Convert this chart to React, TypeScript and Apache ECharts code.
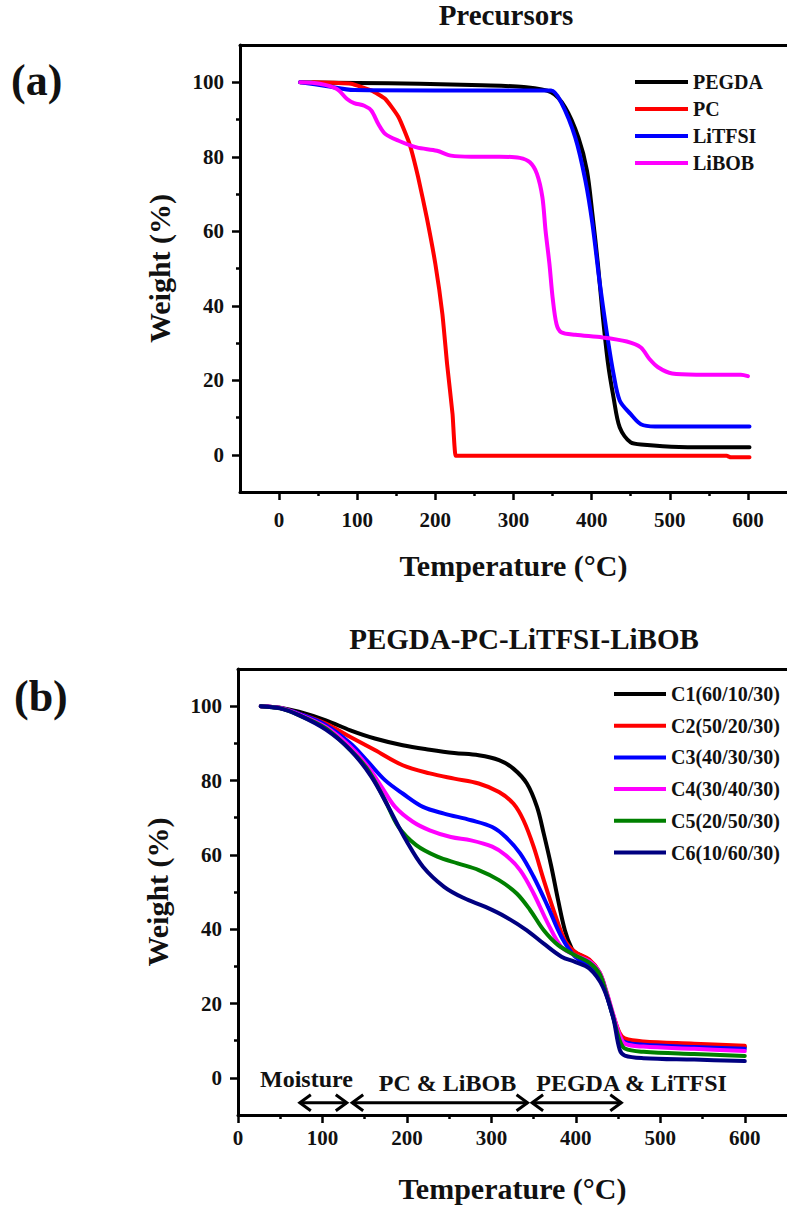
import React, { useEffect, useRef } from "react";
import * as echarts from "echarts";

// ---------- Data: panel (a) Precursors ----------
const precursorNames = ["PEGDA", "PC", "LiTFSI", "LiBOB"];
const precursorColors = ["#000000", "#ff0000", "#0000ff", "#ff00ff"];
const pegdaData = [[27,100],[100,99.8],[180,99.6],[260,99.2],[313,98.7],[348,97.3],[366,93.3],[383,85.2],[394,76.3],[401,64.6],[408,51.2],[414,37.8],[421,24.4],[428,15.4],[436,7.3],[450,3.3],[467,2.7],[512,2.1],[574,2.0],[602,2.0]];
const pcData = [[43,100],[92,99.6],[118,97.8],[136,95.5],[153,90.6],[167,83.4],[178,74.5],[189,63.7],[200,51.2],[209,37.8],[215,24.4],[222,10.9],[226,-0.3],[232,-0.3],[379,-0.3],[573,-0.3],[578,-0.7],[602,-0.7]];
const litfsiData = [[27,100],[60,99],[96,97.9],[200,97.8],[348,97.8],[361,94.6],[379,85.2],[392,73.6],[401,62],[410,46.7],[419,33.3],[428,21.7],[436,14.5],[450,10.9],[463,8.2],[481,7.6],[602,7.6]];
const libobData = [[27,100],[52,99.6],[74,98.2],[87,95.5],[96,94.4],[109,93.7],[118,92.4],[127,88.8],[136,86.1],[153,84.3],[176,82.5],[202,81.6],[220,80.3],[246,80],[282,80],[308,79.7],[321,78.5],[330,75.4],[337,69.1],[341,60.2],[346,51.2],[350,42.3],[355,35.1],[361,32.9],[379,32.2],[414,31.5],[445,30.4],[463,28.8],[474,25.7],[485,23.5],[503,21.8],[534,21.5],[591,21.5],[600,21.1]];

// ---------- Data: panel (b) PEGDA-PC-LiTFSI-LiBOB ----------
const compNames = ["C1(60/10/30)", "C2(50/20/30)", "C3(40/30/30)", "C4(30/40/30)", "C5(20/50/30)", "C6(10/60/30)"];
const compColors = ["#000000", "#ff0000", "#0000ff", "#ff00ff", "#008000", "#000080"];
const c1Data = [[27,100],[50,99.6],[72,98.5],[104,96.2],[133,93.5],[162,91.3],[195,89.5],[227,88.3],[256,87.4],[285,86.8],[309,85.5],[326,83.2],[342,79.2],[354,72.9],[362,65.7],[371,56.8],[379,47.8],[387,39.7],[395,34.8],[400,33.6],[416,31.6],[428,28.2],[436,23],[444,16.8],[452,11.5],[458,10],[480,9.3],[540,8.8],[600,8.3]];
const c2Data = [[27,100],[50,99.5],[72,98],[104,95.3],[133,91.7],[162,88.2],[195,84.1],[227,81.9],[256,80.5],[285,79.2],[309,76.9],[326,73.8],[338,69.3],[350,62.2],[362,53.2],[375,44.2],[387,37],[399,33.9],[416,31.8],[428,28.4],[436,23.2],[444,17],[452,12],[458,10.6],[480,9.8],[540,9.2],[600,8.6]];
const c3Data = [[27,100],[50,99.5],[72,98],[104,94.9],[133,90],[154,85],[174,80.1],[195,76.5],[219,72.9],[244,71.1],[276,69.3],[301,67.5],[317,64.8],[334,60.4],[350,54.1],[367,46],[383,37.9],[399,32.6],[416,30.3],[428,27.6],[436,22.5],[444,16.5],[452,11],[458,9.6],[480,8.9],[540,8.3],[600,7.8]];
const c4Data = [[27,100],[50,99.5],[72,97.8],[104,94.4],[133,89.1],[154,83.7],[170,78.3],[186,72.9],[207,68.9],[227,66.6],[252,64.8],[276,63.9],[301,62.2],[317,59.9],[334,55.9],[350,49.6],[367,41.5],[383,35.2],[399,33],[416,31.4],[428,28.4],[436,23.4],[444,17.3],[452,11.5],[458,9.2],[480,8.4],[540,7.8],[600,7.2]];
const c5Data = [[27,100],[50,99.4],[72,97.6],[104,94],[133,88.2],[154,82.8],[174,74.7],[190,67.5],[211,62.6],[236,59.5],[260,57.7],[285,55.9],[309,53.2],[330,49.6],[346,45.1],[362,39.7],[379,35.7],[399,33],[416,31],[428,28],[436,22.8],[444,16.5],[452,10],[458,7.9],[480,7],[540,6.4],[600,5.9]];
const c6Data = [[27,100],[50,99.4],[72,97.6],[104,93.7],[133,88.2],[158,81],[178,72.9],[199,63.9],[219,56.8],[244,51.4],[268,48.3],[293,46],[317,43.3],[342,39.7],[362,36.1],[383,32.6],[399,31.2],[416,29.4],[432,24.5],[444,16.4],[452,7.5],[458,6],[480,5.3],[540,4.9],[600,4.5]];

// annotations in panel (b): [xStart, xEnd, y]
const arrowSpans = [[72, 130, -6.7], [134, 344, -6.7], [347, 455, -6.7]];
const annotationTexts = ["Moisture", "PC & LiBOB", "PEGDA & LiTFSI"];
const annotationPos = [[81, -0.4], [248, -1.4], [466, -1.4]];

// ticks
const xMajorA = [0, 100, 200, 300, 400, 500, 600];
const xMinorA = [50, 150, 250, 350, 450, 550];
const xMajorB = [0, 100, 200, 300, 400, 500, 600];
const xMinorB = [50, 150, 250, 350, 450, 550];
const yMajor = [0, 20, 40, 60, 80, 100];
const yMinor = [10, 30, 50, 70, 90];

const FONT = "'Liberation Serif', 'Times New Roman', serif";
const INK = "#111111";

function mainX(gridIndex: number, min: number, major: number[], labelMargin: number) {
  return {
    type: "value", gridIndex, position: "bottom", min, max: 650,
    axisLine: { show: true, onZero: false, lineStyle: { color: "#000", width: 3 } },
    axisTick: { show: true, inside: false, length: 8, customValues: major, lineStyle: { color: "#000", width: 2.5 } },
    axisLabel: { show: true, customValues: major, margin: labelMargin, color: INK, fontFamily: FONT, fontWeight: "bold", fontSize: 21 },
    splitLine: { show: false },
    name: "Temperature (\u00B0C)", nameLocation: "middle", nameGap: 58,
    nameTextStyle: { color: INK, fontFamily: FONT, fontWeight: "bold", fontSize: 30 },
  };
}
function minorX(gridIndex: number, min: number, minor: number[]) {
  return {
    type: "value", gridIndex, position: "bottom", min, max: 650,
    axisLine: { show: false, onZero: false },
    axisTick: { show: true, inside: false, length: 4, customValues: minor, lineStyle: { color: "#000", width: 2.5 } },
    axisLabel: { show: false }, splitLine: { show: false },
  };
}
function topX(gridIndex: number, min: number) {
  return {
    type: "value", gridIndex, position: "top", min, max: 650,
    axisLine: { show: true, onZero: false, lineStyle: { color: "#000", width: 3 } },
    axisTick: { show: false }, axisLabel: { show: false }, splitLine: { show: false },
  };
}
function mainY(gridIndex: number) {
  return {
    type: "value", gridIndex, position: "left", min: -10, max: 110,
    axisLine: { show: true, onZero: false, lineStyle: { color: "#000", width: 3 } },
    axisTick: { show: true, inside: false, length: 8, customValues: yMajor, lineStyle: { color: "#000", width: 2.5 } },
    axisLabel: { show: true, customValues: yMajor, margin: 16, color: INK, fontFamily: FONT, fontWeight: "bold", fontSize: 21 },
    splitLine: { show: false },
    name: "Weight (%)", nameLocation: "middle", nameGap: 66, nameRotate: 90,
    nameTextStyle: { color: INK, fontFamily: FONT, fontWeight: "bold", fontSize: 30 },
  };
}
function minorY(gridIndex: number) {
  return {
    type: "value", gridIndex, position: "left", min: -10, max: 110,
    axisLine: { show: false, onZero: false },
    axisTick: { show: true, inside: false, length: 4, customValues: yMinor, lineStyle: { color: "#000", width: 2.5 } },
    axisLabel: { show: false }, splitLine: { show: false },
  };
}

function lineSeries(name: string, data: number[][], color: string, xi: number, yi: number, smooth: number) {
  return {
    type: "line", name, data, xAxisIndex: xi, yAxisIndex: yi,
    showSymbol: false, symbol: "none", smooth,
    lineStyle: { color, width: 4, cap: "round", join: "round" }, itemStyle: { color }, silent: true,
  };
}

export default function App() {
  const ref = useRef<HTMLDivElement>(null);
  useEffect(() => {
    if (!ref.current) return;
    const chart = echarts.init(ref.current, undefined, { renderer: "svg" });
    const legendText = { color: INK, fontFamily: FONT, fontWeight: "bold", fontSize: 20, lineHeight: 20 };
    const seriesA = [pegdaData, pcData, litfsiData, libobData].map((d, i) =>
      lineSeries(precursorNames[i], d, precursorColors[i], 0, 0, i === 1 ? 0.15 : 0.3));
    const seriesB = [c1Data, c2Data, c3Data, c4Data, c5Data, c6Data].map((d, i) =>
      lineSeries(compNames[i], d, compColors[i], 3, 2, 0.35));
    chart.setOption({
      animation: false,
      backgroundColor: "#ffffff",
      title: [
        { text: "Precursors", left: 506, top: 0, textAlign: "center", padding: 0,
          textStyle: { color: INK, fontFamily: FONT, fontWeight: "bold", fontSize: 29 } },
        { text: "PEGDA-PC-LiTFSI-LiBOB", left: 524, top: 624, textAlign: "center", padding: 0,
          textStyle: { color: INK, fontFamily: FONT, fontWeight: "bold", fontSize: 29 } },
        { text: "(a)", left: 11, top: 58, padding: 0,
          textStyle: { color: INK, fontFamily: FONT, fontWeight: "bold", fontSize: 44 } },
        { text: "(b)", left: 14, top: 674, padding: 0,
          textStyle: { color: INK, fontFamily: FONT, fontWeight: "bold", fontSize: 44 } },
      ],
      legend: [
        { data: precursorNames, orient: "vertical", left: 635, top: 72, padding: 0,
          itemWidth: 53, itemHeight: 4, itemGap: 7, icon: "rect", selectedMode: false, textStyle: legendText },
        { data: compNames, orient: "vertical", left: 614, top: 684, padding: 0,
          itemWidth: 52, itemHeight: 4, itemGap: 11.7, icon: "rect", selectedMode: false, textStyle: legendText },
      ],
      grid: [
        { left: 240, top: 45, width: 555, height: 447, containLabel: false },
        { left: 238, top: 669, width: 557, height: 446, containLabel: false },
      ],
      xAxis: [
        mainX(0, -50, xMajorA, 17), minorX(0, -50, xMinorA), topX(0, -50),
        mainX(1, 0, xMajorB, 12), minorX(1, 0, xMinorB), topX(1, 0),
      ],
      yAxis: [mainY(0), minorY(0), mainY(1), minorY(1)],
      series: [
        ...seriesA,
        ...seriesB,
        {
          type: "custom", name: "arrows", xAxisIndex: 3, yAxisIndex: 2, silent: true, clip: false,
          data: arrowSpans, encode: { x: [0, 1], y: 2 },
          renderItem: (params: any, api: any) => {
            const y = api.value(2);
            const p1 = api.coord([api.value(0), y]);
            const p2 = api.coord([api.value(1), y]);
            const h = 8, l = 12;
            const st = { stroke: "#000", lineWidth: 3, fill: null, lineJoin: "miter" };
            return {
              type: "group",
              children: [
                { type: "line", shape: { x1: p1[0] + 1, y1: p1[1], x2: p2[0] - 1, y2: p2[1] }, style: { stroke: "#000", lineWidth: 3 } },
                { type: "polyline", shape: { points: [[p1[0] + l, p1[1] - h], [p1[0] + 1, p1[1]], [p1[0] + l, p1[1] + h]] }, style: st },
                { type: "polyline", shape: { points: [[p2[0] - l, p2[1] - h], [p2[0] - 1, p2[1]], [p2[0] - l, p2[1] + h]] }, style: st },
              ],
            };
          },
        },
        {
          type: "custom", name: "labels", xAxisIndex: 3, yAxisIndex: 2, silent: true, clip: false,
          data: annotationPos, encode: { x: 0, y: 1 },
          renderItem: (params: any, api: any) => {
            const p = api.coord([api.value(0), api.value(1)]);
            return {
              type: "text", x: p[0], y: p[1],
              style: {
                text: annotationTexts[params.dataIndex], fill: INK,
                fontFamily: FONT, fontWeight: "bold", fontSize: 24,
                align: "center", verticalAlign: "middle",
              },
            };
          },
        },
      ],
    });
    return () => chart.dispose();
  }, []);
  return <div ref={ref} style={{ position: "absolute", left: 0, top: 0, width: 787, height: 1206 }} />;
}
